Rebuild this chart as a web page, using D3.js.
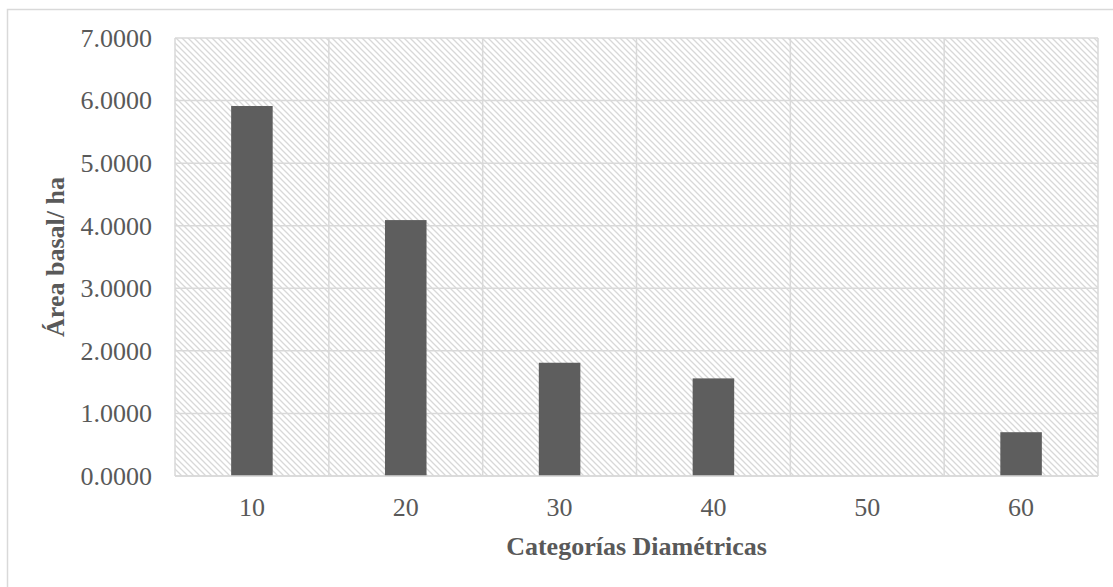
<!DOCTYPE html>
<html><head><meta charset="utf-8">
<script src="https://cdn.jsdelivr.net/npm/d3@7"></script>
<style>body{margin:0;background:#fff}svg{display:block}</style>
</head><body>
<svg id="c" width="1113" height="587"></svg>
<script>
const categories = ["10","20","30","40","50","60"];
const values = [5.913, 4.09, 1.81, 1.56, 0, 0.70];
const yTicks = [0,1,2,3,4,5,6,7];
const yTitle = "Área basal/ ha";
const xTitle = "Categorías Diamétricas";

const svg = d3.select("#c");
const m = {l:175, r:1098, t:38, b:476};
const defs = svg.append("defs");
const pat = defs.append("pattern").attr("id","hatch").attr("patternUnits","userSpaceOnUse")
  .attr("width",6).attr("height",6);
pat.append("rect").attr("width",6).attr("height",6).attr("fill","#fff");
pat.append("path").attr("d","M0,0L6,6M-1,5L1,7M5,-1L7,1").attr("stroke","#d8d8d8").attr("stroke-width",1.3);

// outer border
svg.append("rect").attr("x",7.5).attr("y",9.5).attr("width",1120).attr("height",600)
  .attr("fill","none").attr("stroke","#d9d9d9").attr("stroke-width",1.5);

const x = d3.scaleBand().domain(categories).range([m.l,m.r]).paddingInner(0.73).paddingOuter(0.365);
const xg = d3.scaleBand().domain(categories).range([m.l,m.r]);
const y = d3.scaleLinear().domain([0,7]).range([m.b,m.t]);

svg.append("rect").attr("x",m.l).attr("y",m.t).attr("width",m.r-m.l).attr("height",m.b-m.t).attr("fill","url(#hatch)");

// gridlines
svg.append("g").selectAll("line").data(yTicks).join("line")
  .attr("x1",m.l).attr("x2",m.r).attr("y1",d=>y(d)).attr("y2",d=>y(d))
  .attr("stroke","#d9d9d9").attr("stroke-width",1.5);
const vlines = categories.map(c=>xg(c)).concat([m.r]);
svg.append("g").selectAll("line").data(vlines).join("line")
  .attr("x1",d=>d).attr("x2",d=>d).attr("y1",m.t).attr("y2",m.b)
  .attr("stroke","#d9d9d9").attr("stroke-width",1.5);

// bars
svg.append("g").selectAll("rect").data(values).join("rect")
  .attr("x",(d,i)=>x(categories[i])).attr("width",x.bandwidth())
  .attr("y",d=>y(d)).attr("height",d=>y(0)-y(d)).attr("fill","#5e5e5e");

// bottom axis line
svg.append("line").attr("x1",m.l).attr("x2",m.r).attr("y1",m.b).attr("y2",m.b).attr("stroke","#d9d9d9").attr("stroke-width",1.5);

const font = "'Liberation Serif', 'Times New Roman', serif";
// y tick labels
svg.append("g").selectAll("text").data(yTicks).join("text")
  .attr("x",152).attr("y",d=>y(d)).attr("dy","0.34em").attr("text-anchor","end")
  .attr("font-family",font).attr("font-size",26).attr("fill","#595959")
  .text(d=>d3.format(".4f")(d));
// x tick labels
svg.append("g").selectAll("text").data(categories).join("text")
  .attr("x",d=>xg(d)+xg.bandwidth()/2).attr("y",516).attr("text-anchor","middle")
  .attr("font-family",font).attr("font-size",26).attr("fill","#595959").text(d=>d);
// titles
svg.append("text").attr("x",(m.l+m.r)/2).attr("y",555).attr("text-anchor","middle")
  .attr("font-family",font).attr("font-size",26).attr("font-weight","bold").attr("fill","#595959").text(xTitle);
svg.append("text").attr("transform",`translate(64,${(m.t+m.b)/2}) rotate(-90)`).attr("text-anchor","middle")
  .attr("font-family",font).attr("font-size",26).attr("font-weight","bold").attr("fill","#595959").text(yTitle);
</script>
</body></html>
